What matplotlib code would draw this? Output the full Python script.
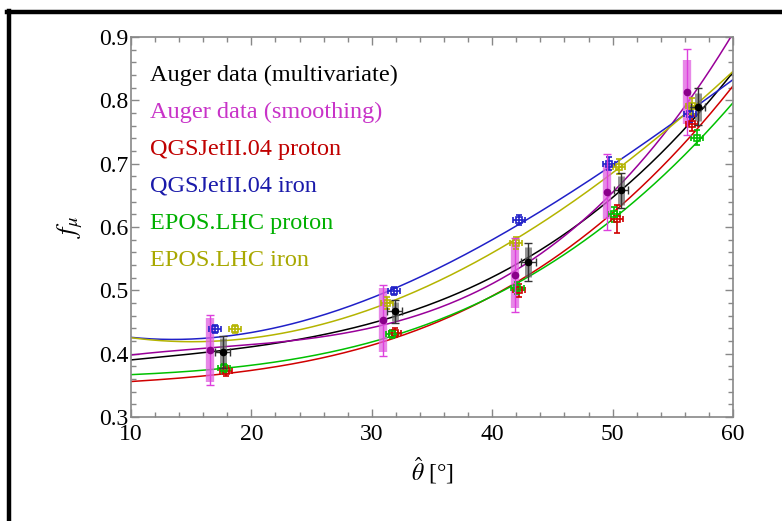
import numpy as np
import matplotlib
matplotlib.use("Agg")
import matplotlib.pyplot as plt
from matplotlib.lines import Line2D
from matplotlib.ticker import MultipleLocator

plt.rcParams["font.family"] = ["Liberation Serif", "DejaVu Serif"]
plt.rcParams["mathtext.fontset"] = "stix"

# Auger measurements (multivariate and smoothing methods)
theta_multi = [17.6, 31.9, 43.0, 50.7, 57.1]
fmu_multi = [0.403, 0.467, 0.545, 0.658, 0.790]
multi_sys = [0.022, 0.015, 0.024, 0.023, 0.022]
multi_stat = [0.025, 0.018, 0.030, 0.028, 0.029]

theta_smooth = [16.6, 30.9, 41.9, 49.5, 56.2]
fmu_smooth = [0.406, 0.453, 0.524, 0.655, 0.813]
smooth_sys = [0.050, 0.051, 0.052, 0.043, 0.050]
smooth_stat = [0.055, 0.056, 0.058, 0.060, 0.068]

# simulations
theta_qgs_p = [17.9, 31.9, 42.2, 50.4, 56.6]
fmu_qgs_p = [0.373, 0.433, 0.500, 0.612, 0.763]
err_qgs_p = [0.008, 0.007, 0.010, 0.022, 0.012]

theta_qgs_fe = [17.0, 31.85, 42.2, 49.7, 56.4]
fmu_qgs_fe = [0.439, 0.499, 0.611, 0.700, 0.778]
err_qgs_fe = [0.006, 0.006, 0.008, 0.010, 0.012]

theta_epos_p = [17.7, 31.7, 42.1, 50.1, 57.0]
fmu_epos_p = [0.377, 0.431, 0.504, 0.620, 0.741]
err_epos_p = [0.007, 0.007, 0.009, 0.012, 0.012]

theta_epos_fe = [18.6, 31.3, 42.0, 50.5, 56.6]
fmu_epos_fe = [0.439, 0.480, 0.575, 0.695, 0.791]
err_epos_fe = [0.006, 0.010, 0.010, 0.012, 0.012]

theta_xerr = 0.5

# fitted curves, sampled on a coarse grid
theta_grid = [10, 20, 30, 40, 50, 60]
fit_multi = [0.390, 0.410, 0.453, 0.513, 0.652, 0.843]
fit_smooth = [0.398, 0.413, 0.445, 0.505, 0.658, 0.905]
fit_qgs_p = [0.357, 0.370, 0.418, 0.489, 0.622, 0.823]
fit_epos_p = [0.368, 0.378, 0.422, 0.491, 0.610, 0.797]
fit_qgs_fe = [0.425, 0.436, 0.486, 0.579, 0.700, 0.832]
fit_epos_fe = [0.425, 0.425, 0.472, 0.556, 0.688, 0.845]

labels = ["Auger data (multivariate)", "Auger data (smoothing)",
          "QGSJetII.04 proton", "QGSJetII.04 iron",
          "EPOS.LHC proton", "EPOS.LHC iron"]
label_colors = ["black", "#c833c8", "#c00000", "#1a1aaa", "#00b000", "#a8a800"]

fig = plt.figure(figsize=(7.82, 5.21), dpi=100)
ax = fig.add_axes([131 / 782, 1 - 417 / 521, 602 / 782, 380 / 521])

xs = np.linspace(10, 60, 300)


def smooth_curve(vals):
    coef = np.polyfit(theta_grid, vals, 3)
    return np.polyval(coef, xs)


curve_styles = [
    (fit_multi, "black"),
    (fit_smooth, "#990099"),
    (fit_qgs_p, "#d00000"),
    (fit_epos_p, "#00c000"),
    (fit_qgs_fe, "#2020c8"),
    (fit_epos_fe, "#b4b400"),
]
for vals, col in curve_styles:
    ax.plot(xs, smooth_curve(vals), color=col, lw=1.1, zorder=2)

# model points
models = [
    (theta_qgs_p, fmu_qgs_p, err_qgs_p, "#d00000"),
    (theta_qgs_fe, fmu_qgs_fe, err_qgs_fe, "#2020c8"),
    (theta_epos_p, fmu_epos_p, err_epos_p, "#00c000"),
    (theta_epos_fe, fmu_epos_fe, err_epos_fe, "#b4b400"),
]
for th, fm, er, col in models:
    ax.errorbar(th, fm, yerr=er, xerr=theta_xerr, fmt="s", ms=4, mfc="none",
                mec=col, mew=1.2, ecolor=col, elinewidth=1.2, capsize=2.5,
                capthick=1.2, zorder=4)

# smoothing method: systematic band + statistical bar
ax.errorbar(theta_smooth, fmu_smooth, yerr=smooth_sys, fmt="none",
            ecolor="#e060e0", elinewidth=6, alpha=0.75, zorder=3)
ax.errorbar(theta_smooth, fmu_smooth, yerr=smooth_stat, fmt="o", ms=4.5,
            color="#8a008a", ecolor="#dd40dd", elinewidth=1.0, capsize=3,
            capthick=1.0, zorder=5)

# multivariate method
ax.errorbar(theta_multi, fmu_multi, yerr=multi_sys, fmt="none",
            ecolor="#666666", elinewidth=5, alpha=0.7, zorder=3)
ax.errorbar(theta_multi, fmu_multi, yerr=multi_stat, xerr=0.6, fmt="o", ms=4.5,
            color="black", ecolor="#333333", elinewidth=1.0, capsize=3,
            capthick=1.0, zorder=5)

for i, (txt, col) in enumerate(zip(labels, label_colors)):
    ax.text(0.032, 0.90 - i * 0.0975, txt, color=col, fontsize=17.5,
            fontfamily="Liberation Serif",
            transform=ax.transAxes, va="center", ha="left")

ax.set_xlim(10, 60)
ax.set_ylim(0.3, 0.9)
ax.xaxis.set_major_locator(MultipleLocator(10))
ax.xaxis.set_minor_locator(MultipleLocator(2))
ax.yaxis.set_major_locator(MultipleLocator(0.1))
ax.yaxis.set_minor_locator(MultipleLocator(0.02))
ax.tick_params(which="both", direction="in", top=True, right=True,
               color="#888888", labelsize=17, width=1.0,
               labelfontfamily="Liberation Serif")
ax.tick_params(which="major", length=6)
ax.tick_params(axis="x", which="major", pad=5)
ax.tick_params(axis="y", which="major", pad=2)
ax.tick_params(which="minor", length=3.5)
for sp in ax.spines.values():
    sp.set_color("#888888")
    sp.set_linewidth(1.2)

ax.set_xlabel(r"$\hat{\theta}$ [°]", fontsize=17, labelpad=7)
ax.set_ylabel(r"$f_\mu$", fontsize=19, labelpad=10)

# outer frame
fig.add_artist(Line2D([7 / 782, 1], [1 - 12 / 521] * 2,
                      transform=fig.transFigure, color="black", lw=3.2))
fig.add_artist(Line2D([8.5 / 782] * 2, [0, 1 - 11 / 521],
                      transform=fig.transFigure, color="black", lw=3.2))

fig.savefig("out.png", dpi=100)
